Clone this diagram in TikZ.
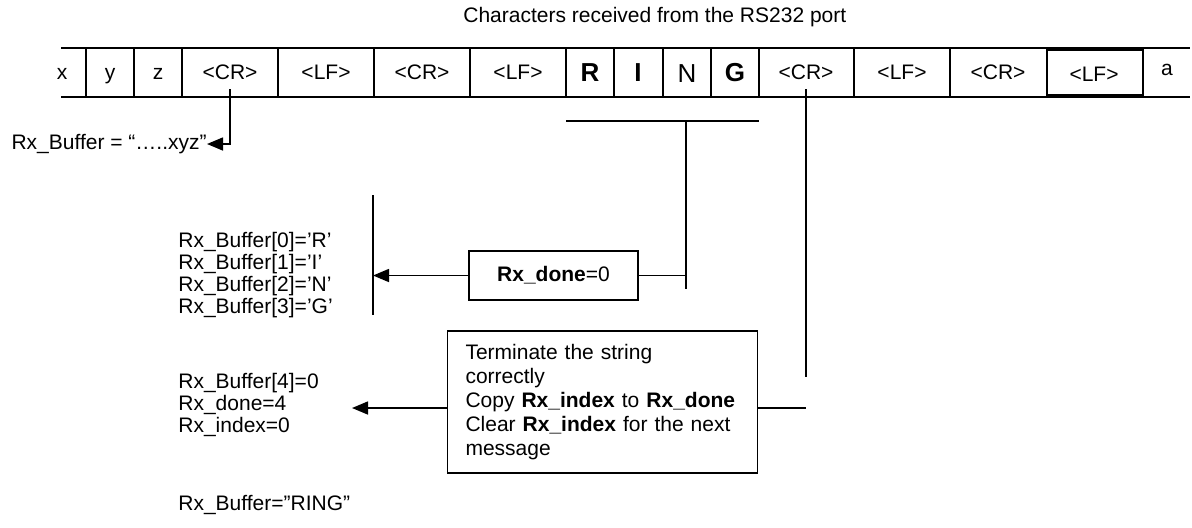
\documentclass[tikz,border=0pt]{standalone}
\usepackage{fontspec}
\setmainfont{Liberation Sans}
\usetikzlibrary{arrows.meta,positioning}
\tikzset{
  lbl/.style={font=\fontsize{10.5}{11}\selectfont,inner sep=0pt},
  blk/.style={lbl,align=left,anchor=west},
  ch/.style={lbl,anchor=base},
  bigch/.style={inner sep=0pt,anchor=base,font=\fontsize{13}{13}\selectfont},
  ln/.style={line width=.8pt},
  box/.style={draw,line width=.8pt,lbl},
  arr/.style={-{Triangle[length=8pt,width=6.5pt]},line width=.8pt},
}

\begin{document}
\begin{tikzpicture}[x=0.5pt,y=-0.5pt]
  \useasboundingbox (0,0) rectangle (1192,527);
  \node[lbl,anchor=west] (title) at (463,17) {Characters received from the RS232 port};
  % the tape of received characters
  \draw[ln] (61,48) -- (1190,48);
  \draw[ln] (61,97) -- (1190,97);
  \foreach \xx in {86,134,182,278,374,470,566,614,663,711,759,854,950}
    \draw[ln] (\xx,48) -- (\xx,97);
  \draw[ln] (1047,50) rectangle (1143,95);
  \draw[ln] (1143,48) -- (1143,50) (1143,95) -- (1143,97);
  \foreach \xx/\txt [count=\i] in {62/x,110/y,158/z,230/<CR>,326/<LF>,422/<CR>,518/<LF>,806/<CR>,902/<LF>,998/<CR>}
    \node[ch] (c\i) at (\xx,79) {\txt};
  \node[bigch] (chR) at (590,81) {\textbf{R}};
  \node[bigch] (chI) at (638,81) {\textbf{I}};
  \node[bigch] (chN) at (687,82) {N};
  \node[bigch] (chG) at (735,81) {\textbf{G}};
  \node[ch] (c11) at (1094,81) {<LF>};
  \node[ch] (c12) at (1167,75) {a};
  % first <CR>: buffer so far
  \coordinate (cr1) at (230,89);
  \node[lbl,anchor=east] (old) at (207,144) {Rx\_Buffer = “…..xyz”};
  \draw[arr] (cr1) |- (old.east);
  % RING bracket and Rx_done box
  \coordinate (ringL) at (566,121);
  \coordinate (ringR) at (759,121);
  \coordinate (ringM) at (686,121);
  \coordinate (ringB) at (686,289);
  \draw[ln] (ringL) -- (ringR);
  \draw[ln] (ringM) -- (ringB);
  \node[box,minimum width=84.5pt,minimum height=24.5pt] (done) at (553.5,275.5) {\textbf{Rx\_done}=0};
  \draw[ln] (done.east) -- (done.east -| ringM);
  \coordinate (barT) at (373,195);
  \coordinate (barB) at (373,315);
  \draw[ln] (barT) -- (barB);
  \draw[arr] (done.west) -- (done.west -| barT);
  \node[blk] (fill) at (178,275) {Rx\_Buffer[0]=’R’\\Rx\_Buffer[1]=’I’\\Rx\_Buffer[2]=’N’\\Rx\_Buffer[3]=’G’};
  % second <CR>: end of the message
  \coordinate (cr2) at (806,89);
  \coordinate (cr2b) at (806,377);
  \draw[ln] (cr2) -- (cr2b);
  \node[box,align=left,text width=137pt,inner xsep=9pt,minimum height=71pt,
    font=\fontsize{10.5}{12.1}\selectfont] (term) at (602.5,402)
    {Terminate the string\\correctly\\Copy \textbf{Rx\_index} to \textbf{Rx\_done}\\Clear \textbf{Rx\_index} for the next\\message};
  \coordinate (termR) at (806,408);
  \coordinate (resTip) at (352,408);
  \draw[ln] (term.east |- termR) -- (termR);
  \draw[arr] (term.west |- termR) -- (resTip);
  \node[blk] (res) at (178,405) {Rx\_Buffer[4]=0\\Rx\_done=4\\Rx\_index=0};
  \node[blk] (ring) at (178,505) {Rx\_Buffer=”RING”};
\end{tikzpicture}
\end{document}
